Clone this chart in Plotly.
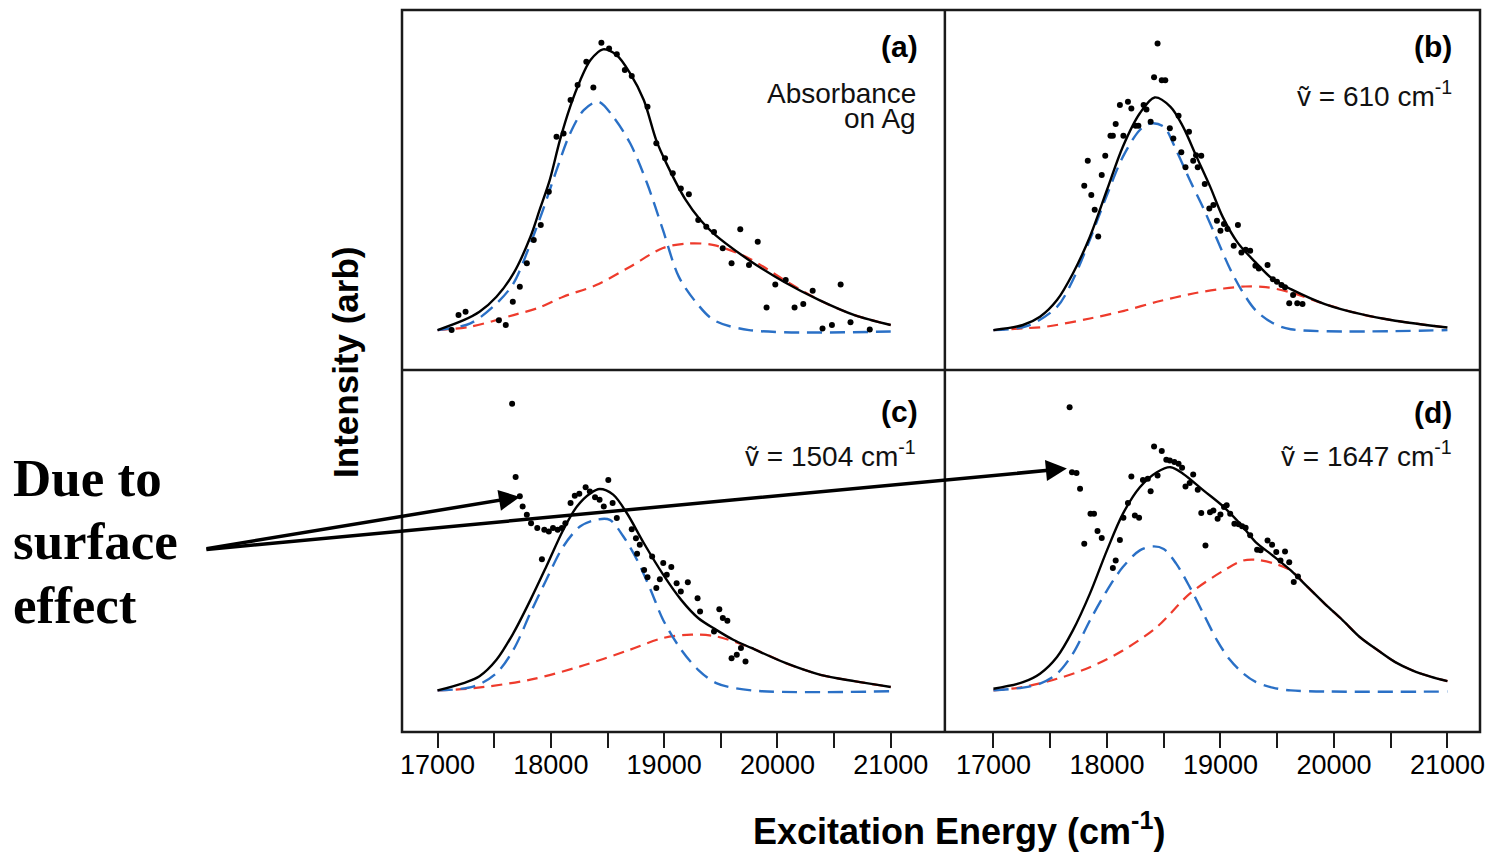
import plotly.graph_objects as go

# ---------------- data ----------------
# Panel (a): Absorbance on Ag
a_pts_x = [17124, 17185, 17247, 17541, 17602, 17664, 17726, 17788, 17849, 17911, 17982, 18050,
           18112, 18174, 18236, 18313, 18375, 18446, 18514, 18582, 18653, 18714, 18853, 18931,
           19008, 19076, 19147, 19218, 19301, 19372, 19440, 19517, 19595, 19672, 19749, 19826,
           19904, 19981, 20073, 20151, 20228, 20311, 20398, 20481, 20558, 20645, 20815]
a_pts_y = [0.0, 0.053, 0.065, 0.035, 0.018, 0.10, 0.153, 0.236, 0.318, 0.371, 0.489, 0.683,
           0.695, 0.813, 0.866, 0.948, 0.857, 1.015, 0.995, 0.975, 0.919, 0.898, 0.789, 0.66,
           0.607, 0.554, 0.50, 0.48, 0.389, 0.365, 0.347, 0.289, 0.236, 0.356, 0.23, 0.312,
           0.08, 0.161, 0.177, 0.08, 0.092, 0.139, 0.006, 0.018, 0.161, 0.028, 0.002]
a_fit_x = [17000, 17230, 17370, 17520, 17670, 17820, 17900, 17990, 18080, 18170, 18260, 18350,
           18460, 18580, 18700, 18820, 18930, 19020, 19190, 19320, 19440, 19750, 20060, 20370,
           20680, 21000]
a_fit_y = [0.0, 0.035, 0.065, 0.118, 0.2, 0.33, 0.424, 0.53, 0.671, 0.789, 0.883, 0.954,
           0.992, 0.972, 0.907, 0.813, 0.671, 0.589, 0.46, 0.389, 0.34, 0.247, 0.17, 0.106,
           0.053, 0.018]
a_blue_x = [17000, 17290, 17520, 17670, 17820, 17930, 18050, 18170, 18290, 18420, 18550, 18700,
            18850, 18990, 19130, 19290, 19440, 19750, 21000]
a_blue_y = [0.0, 0.024, 0.094, 0.165, 0.306, 0.424, 0.565, 0.695, 0.777, 0.807, 0.754, 0.66,
            0.518, 0.353, 0.188, 0.094, 0.035, 0.0, -0.005]
a_red_x = [17000, 17290, 17670, 17900, 18110, 18400, 18700, 18990, 19210, 19440, 19750, 20060,
           20370, 20680, 21000]
a_red_y = [0.0, 0.012, 0.053, 0.08, 0.118, 0.159, 0.224, 0.29, 0.306, 0.30, 0.253, 0.177,
           0.106, 0.053, 0.018]

# Panel (b): 610 cm-1
b_pts_x = [17800, 17831, 17862, 17892, 17923, 17954, 17985, 18031, 18052, 18077, 18114, 18145,
           18185, 18215, 18252, 18277, 18323, 18348, 18385, 18415, 18446, 18483, 18514, 18554,
           18585, 18631, 18655, 18692, 18723, 18760, 18785, 18800, 18831, 18862, 18902, 18938,
           18969, 19000, 19031, 19062, 19117, 19154, 19185, 19222, 19262, 19308, 19338, 19415,
           19462, 19498, 19538, 19569, 19606, 19640, 19677, 19723]
b_pts_y = [0.51, 0.598, 0.477, 0.425, 0.331, 0.548, 0.616, 0.687, 0.687, 0.728, 0.795, 0.687,
           0.807, 0.783, 0.722, 0.722, 0.795, 0.779, 0.736, 0.893, 1.013, 0.883, 0.883, 0.713,
           0.677, 0.757, 0.628, 0.575, 0.701, 0.598, 0.618, 0.575, 0.616, 0.516, 0.43, 0.442,
           0.386, 0.351, 0.375, 0.357, 0.298, 0.371, 0.274, 0.284, 0.28, 0.227, 0.218, 0.23,
           0.18, 0.171, 0.159, 0.151, 0.095, 0.124, 0.095, 0.092]
b_fit_x = [17000, 17260, 17410, 17560, 17700, 17850, 18000, 18140, 18290, 18420, 18560, 18670,
           18790, 18910, 19020, 19150, 19310, 19460, 19620, 19920, 20230, 20540, 21000]
b_fit_y = [0.0, 0.018, 0.047, 0.106, 0.2, 0.33, 0.495, 0.648, 0.766, 0.822, 0.789, 0.719,
           0.612, 0.506, 0.40, 0.31, 0.239, 0.18, 0.145, 0.092, 0.057, 0.033, 0.009]
b_blue_x = [17000, 17300, 17560, 17700, 17850, 18000, 18140, 18290, 18380, 18500, 18610, 18730,
            18850, 18960, 19080, 19180, 19310, 19460, 19620, 21000]
b_blue_y = [0.0, 0.015, 0.082, 0.177, 0.32, 0.477, 0.612, 0.707, 0.73, 0.719, 0.636, 0.53,
            0.43, 0.33, 0.22, 0.145, 0.07, 0.025, 0.003, 0.0]
b_red_x = [17000, 17260, 17460, 17850, 18150, 18440, 18770, 19030, 19220, 19400, 19620, 19920,
           20230, 20540, 21000]
b_red_y = [0.0, 0.006, 0.012, 0.041, 0.068, 0.1, 0.13, 0.147, 0.154, 0.152, 0.133, 0.092,
           0.057, 0.033, 0.009]

# Panel (c): 1504 cm-1
c_pts_x = [17658, 17689, 17726, 17751, 17788, 17825, 17880, 17921, 17942, 17982, 18019, 18060,
           18097, 18128, 18174, 18211, 18251, 18307, 18344, 18390, 18430, 18467, 18507, 18545,
           18582, 18714, 18751, 18785, 18761, 18823, 18853, 18894, 18931, 18962, 18992, 19023,
           19063, 19110, 19147, 19209, 19295, 19317, 19487, 19518, 19558, 19440, 19595, 19641,
           19678, 19718]
c_pts_y = [1.013, 0.754, 0.686, 0.65, 0.621, 0.591, 0.574, 0.464, 0.568, 0.562, 0.574, 0.568,
           0.574, 0.591, 0.662, 0.688, 0.695, 0.718, 0.703, 0.683, 0.674, 0.65, 0.744, 0.662,
           0.609, 0.57, 0.538, 0.515, 0.483, 0.426, 0.40, 0.473, 0.362, 0.393, 0.45, 0.409,
           0.436, 0.379, 0.35, 0.382, 0.326, 0.279, 0.287, 0.256, 0.246, 0.208, 0.114, 0.126,
           0.15, 0.102]
c_fit_x = [17000, 17230, 17370, 17520, 17670, 17820, 17960, 18110, 18230, 18350, 18430, 18550,
           18670, 18820, 18990, 19150, 19300, 19460, 19610, 19770, 20070, 20380, 20690, 21000]
c_fit_y = [0.0, 0.026, 0.05, 0.108, 0.203, 0.32, 0.438, 0.568, 0.65, 0.697, 0.712, 0.692,
           0.627, 0.521, 0.41, 0.32, 0.256, 0.214, 0.179, 0.15, 0.097, 0.055, 0.032, 0.012]
c_blue_x = [17000, 17320, 17520, 17670, 17820, 17960, 18110, 18260, 18400, 18520, 18640, 18760,
            18880, 18990, 19150, 19300, 19460, 19770, 21000]
c_blue_y = [0.0, 0.014, 0.061, 0.144, 0.274, 0.391, 0.509, 0.58, 0.603, 0.603, 0.544, 0.462,
            0.356, 0.25, 0.144, 0.073, 0.026, 0.0, -0.003]
c_red_x = [17000, 17320, 17820, 18260, 18700, 18990, 19240, 19460, 19770, 20070, 20380, 20690,
           21000]
c_red_y = [0.0, 0.008, 0.038, 0.085, 0.144, 0.185, 0.197, 0.191, 0.15, 0.097, 0.055, 0.032,
           0.012]

# Panel (d): 1647 cm-1
d_pts_x = [17671, 17692, 17732, 17763, 17800, 17855, 17886, 17917, 17954, 18052, 18077, 18114,
           18145, 18185, 18215, 18246, 18283, 18317, 18360, 18385, 18415, 18446, 18483, 18523,
           18554, 18594, 18631, 18662, 18692, 18729, 18760, 18800, 18831, 18868, 18908, 18938,
           18975, 19000, 19031, 19055, 19086, 19123, 19160, 19191, 19222, 19262, 19323, 19354,
           19415, 19455, 19492, 19529, 19569, 19606, 19646, 19683]
d_pts_y = [1.001, 0.771, 0.768, 0.713, 0.518, 0.624, 0.624, 0.563, 0.539, 0.433, 0.459, 0.532,
           0.61, 0.662, 0.756, 0.618, 0.61, 0.744, 0.748, 0.704, 0.862, 0.76, 0.846, 0.815,
           0.813, 0.807, 0.801, 0.787, 0.721, 0.733, 0.763, 0.709, 0.627, 0.512, 0.63, 0.636,
           0.607, 0.622, 0.648, 0.654, 0.624, 0.589, 0.587, 0.58, 0.575, 0.548, 0.497, 0.495,
           0.53, 0.515, 0.489, 0.459, 0.491, 0.453, 0.383, 0.403]
d_fit_x = [17000, 17260, 17410, 17560, 17700, 17850, 18000, 18140, 18290, 18440, 18560, 18670,
           18850, 19030, 19200, 19310, 19460, 19620, 19770, 19920, 20080, 20230, 20390, 20540,
           20690, 20850, 21000]
d_fit_y = [0.006, 0.029, 0.059, 0.118, 0.212, 0.342, 0.495, 0.624, 0.718, 0.771, 0.789, 0.766,
           0.707, 0.648, 0.577, 0.524, 0.477, 0.424, 0.365, 0.306, 0.247, 0.188, 0.141, 0.1,
           0.071, 0.049, 0.033]
d_blue_x = [17000, 17260, 17410, 17560, 17700, 17850, 18000, 18140, 18290, 18410, 18500, 18610,
            18730, 18850, 18970, 19080, 19200, 19310, 19460, 19620, 21000]
d_blue_y = [0.0, 0.01, 0.024, 0.059, 0.13, 0.247, 0.353, 0.436, 0.495, 0.509, 0.5, 0.448,
            0.365, 0.271, 0.177, 0.11, 0.06, 0.03, 0.01, 0.0, -0.004]
d_red_x = [17000, 17260, 17560, 17850, 18140, 18440, 18730, 19030, 19200, 19310, 19460, 19620,
           19770, 19920, 20080, 20230, 20390, 20540, 20690, 20850, 21000]
d_red_y = [0.0, 0.012, 0.041, 0.082, 0.141, 0.224, 0.342, 0.424, 0.459, 0.462, 0.45, 0.424,
           0.365, 0.306, 0.247, 0.188, 0.141, 0.1, 0.071, 0.049, 0.033]

tick_vals = [17000, 17500, 18000, 18500, 19000, 19500, 20000, 20500, 21000]
tick_text = ["17000", "", "18000", "", "19000", "", "20000", "", "21000"]

panel_tags = ["(a)", "(b)", "(c)", "(d)"]
panel_notes = ["Absorbance", "ṽ = 610 cm<sup>-1</sup>", "ṽ = 1504 cm<sup>-1</sup>",
               "ṽ = 1647 cm<sup>-1</sup>"]

# ---------------- styling ----------------
BLUE = "#2a70c6"
RED = "#ee3b2c"
FRAME = "#1a1a1a"
SANS = "Liberation Sans, Arial, sans-serif"

fig = go.Figure()

panels = [
    ("x", "y", a_red_x, a_red_y, a_blue_x, a_blue_y, a_fit_x, a_fit_y, a_pts_x, a_pts_y),
    ("x2", "y2", b_red_x, b_red_y, b_blue_x, b_blue_y, b_fit_x, b_fit_y, b_pts_x, b_pts_y),
    ("x3", "y3", c_red_x, c_red_y, c_blue_x, c_blue_y, c_fit_x, c_fit_y, c_pts_x, c_pts_y),
    ("x4", "y4", d_red_x, d_red_y, d_blue_x, d_blue_y, d_fit_x, d_fit_y, d_pts_x, d_pts_y),
]
for xa, ya, rx, ry, bx, by, fx, fy, px, py in panels:
    fig.add_trace(go.Scatter(x=rx, y=ry, mode="lines", xaxis=xa, yaxis=ya,
                             line=dict(color=RED, width=2.2, dash="11px,7px", shape="spline", smoothing=0.9),
                             showlegend=False, hoverinfo="skip"))
    fig.add_trace(go.Scatter(x=bx, y=by, mode="lines", xaxis=xa, yaxis=ya,
                             line=dict(color=BLUE, width=2.4, dash="15px,8px", shape="spline", smoothing=0.9),
                             showlegend=False, hoverinfo="skip"))
    fig.add_trace(go.Scatter(x=fx, y=fy, mode="lines", xaxis=xa, yaxis=ya,
                             line=dict(color="black", width=2.4, shape="spline", smoothing=0.9),
                             showlegend=False, hoverinfo="skip"))
    fig.add_trace(go.Scatter(x=px, y=py, mode="markers", xaxis=xa, yaxis=ya,
                             marker=dict(color="black", size=6),
                             showlegend=False, hoverinfo="skip"))

XSPLIT = 0.5036
YSPLIT = 0.5014
LEFT_RANGE = [16686, 21478]
RIGHT_RANGE = [16572, 21287]
TOP_RANGE = [-0.141, 1.131]
BOT_RANGE = [-0.147, 1.1325]

base = dict(showline=False, showgrid=False, zeroline=False)
xtop = dict(base, showticklabels=False, ticks="")
xbot = dict(base, ticks="outside", ticklen=15, tickwidth=2, tickcolor=FRAME,
            tickmode="array", tickvals=tick_vals, ticktext=tick_text,
            ticklabelstandoff=-6, ticklabeloverflow="allow",
            tickfont=dict(family=SANS, size=27, color="black"))
yax = dict(base, showticklabels=False, ticks="")

fig.update_layout(
    width=1488, height=853,
    margin=dict(l=402, r=3, t=10, b=121),
    paper_bgcolor="white", plot_bgcolor="white",
    xaxis=dict(xtop, domain=[0, XSPLIT], anchor="y", range=LEFT_RANGE),
    yaxis=dict(yax, domain=[YSPLIT, 1], anchor="x", range=TOP_RANGE),
    xaxis2=dict(xtop, domain=[XSPLIT, 1], anchor="y2", range=RIGHT_RANGE),
    yaxis2=dict(yax, domain=[YSPLIT, 1], anchor="x2", range=TOP_RANGE),
    xaxis3=dict(xbot, domain=[0, XSPLIT], anchor="y3", range=LEFT_RANGE),
    yaxis3=dict(yax, domain=[0, YSPLIT], anchor="x3", range=BOT_RANGE),
    xaxis4=dict(xbot, domain=[XSPLIT, 1], anchor="y4", range=RIGHT_RANGE),
    yaxis4=dict(yax, domain=[0, YSPLIT], anchor="x4", range=BOT_RANGE),
)

# panel frame: outer box and the two dividers
fl = dict(color=FRAME, width=2.5)
fig.add_shape(type="rect", xref="paper", yref="paper", x0=0, x1=1, y0=0, y1=1, line=fl, layer="above")
fig.add_shape(type="line", xref="paper", yref="paper", x0=XSPLIT, x1=XSPLIT, y0=0, y1=1, line=fl, layer="above")
fig.add_shape(type="line", xref="paper", yref="paper", x0=0, x1=1, y0=YSPLIT, y1=YSPLIT, line=fl, layer="above")

ann = []
lab = dict(family=SANS, size=30, color="black")
note = dict(family=SANS, size=28, color="#111")
# panel tags
for tag, (x, y) in zip(panel_tags, [(0.4805, 0.950), (0.9759, 0.950), (0.4805, 0.4445), (0.9759, 0.442)]):
    ann.append(dict(text="<b>%s</b>" % tag, x=x, y=y, xref="paper", yref="paper",
                    xanchor="right", yanchor="middle", showarrow=False, font=lab))
# notes
for t, (x, y) in zip(panel_notes, [(0.4787, 0.8837), (0.9759, 0.8835), (0.4787, 0.385), (0.9759, 0.385)]):
    ann.append(dict(text=t, x=x, y=y, xref="paper", yref="paper",
                    xanchor="right", yanchor="middle", showarrow=False, font=note))
ann.append(dict(text="on Ag", x=0.4787, y=0.8504, xref="paper", yref="paper",
                xanchor="right", yanchor="middle", showarrow=False, font=note))

# axis titles
ann.append(dict(text="<b>Excitation Energy (cm<sup>-1</sup>)</b>", x=0.5176, y=-0.1345,
                xref="paper", yref="paper", xanchor="center", yanchor="middle", showarrow=False,
                font=dict(family=SANS, size=36, color="black")))
ann.append(dict(text="<b>Intensity (arb)</b>", x=-0.052, y=0.5125, textangle=-90,
                xref="paper", yref="paper", xanchor="center", yanchor="middle", showarrow=False,
                font=dict(family=SANS, size=35, color="black")))

# "Due to surface effect" note
serif = dict(family="Liberation Serif, Times New Roman, serif", size=53, color="black")
for t, y in [("Due to", 0.3518), ("surface", 0.2645), ("effect", 0.1759)]:
    ann.append(dict(text="<b>%s</b>" % t, x=-0.363, y=y, xref="paper", yref="paper",
                    xanchor="left", yanchor="middle", showarrow=False, font=serif))

# arrows pointing at the surface-effect points
ann.append(dict(text="", x=17727, y=0.684, xref="x3", yref="y3", ax=-315, ay=52,
                axref="pixel", ayref="pixel", showarrow=True, arrowhead=2, arrowsize=1.2,
                arrowwidth=3.5, arrowcolor="black", standoff=0, startstandoff=0))
ann.append(dict(text="", x=17647, y=0.784, xref="x4", yref="y4", ax=-862, ay=81,
                axref="pixel", ayref="pixel", showarrow=True, arrowhead=2, arrowsize=1.2,
                arrowwidth=3.5, arrowcolor="black", standoff=0, startstandoff=0))

fig.update_layout(annotations=ann)
# remove the browser's default body margin and scrollbars so the 1488x853 figure fills the window exactly
fig.write_html(
    "out.html",
    config={"displayModeBar": False, "responsive": False},
    post_script=("document.documentElement.style.overflow='hidden';"
                 "document.body.style.margin='0';document.body.style.overflow='hidden';"),
)
